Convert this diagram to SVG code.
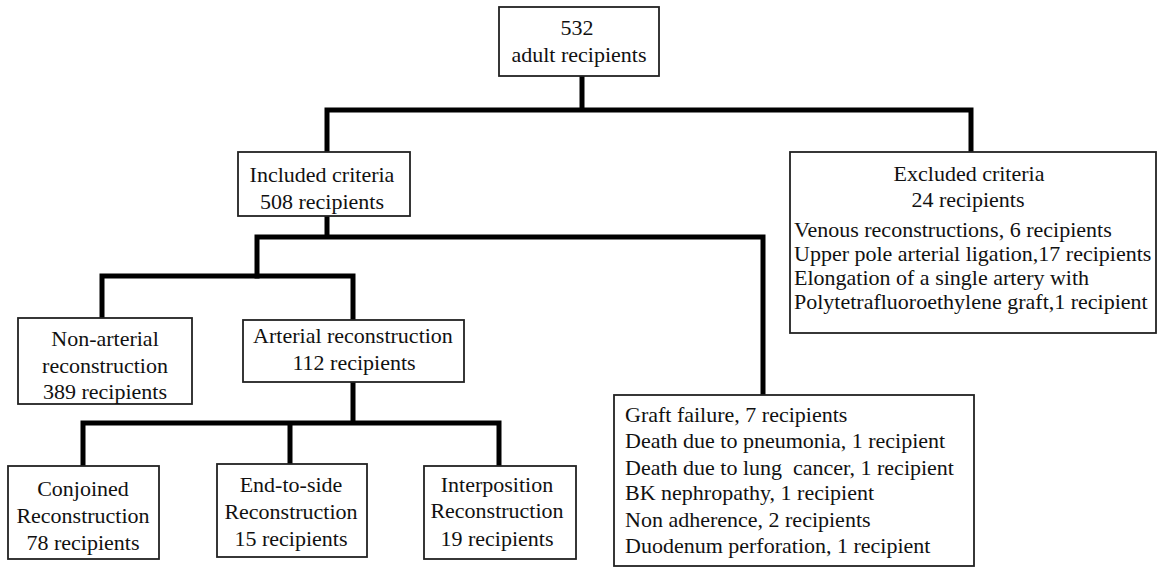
<svg xmlns="http://www.w3.org/2000/svg" width="1159" height="569" viewBox="0 0 1159 569">
<style>
.box{fill:#fff;stroke:#222;stroke-width:1.8}
.t{font-family:'Liberation Serif','Times New Roman',serif;font-size:22px;fill:#111}
.c{text-anchor:middle}
.conn{fill:none;stroke:#000;stroke-width:5;stroke-linejoin:miter;stroke-linecap:square}
</style>
<rect width="1159" height="569" fill="#fff"/>
<g id="connectors">
<path class="conn" d="M582 76 V110 M327 152 V110 H971 V152"/>
<path class="conn" d="M327 216 V237 M257 276 V237 H763 V395"/>
<path class="conn" d="M102 318 V276 H353 V320"/>
<path class="conn" d="M353 382 V423 M83 466 V423 H499 V466 M290 423 V464"/>
</g>
<g id="n532">
<rect class="box" x="499" y="7" width="160" height="69"/>
<text class="t c" x="577" y="35">532</text>
<text class="t c" x="579" y="62">adult recipients</text>
</g>
<g id="included">
<rect class="box" x="238" y="152" width="172" height="64"/>
<text class="t c" x="322" y="182">Included criteria</text>
<text class="t c" x="322" y="209">508 recipients</text>
</g>
<g id="excluded">
<rect class="box" x="790" y="152" width="366" height="181"/>
<text class="t c" x="969" y="181">Excluded criteria</text>
<text class="t c" x="968" y="207">24 recipients</text>
<text class="t" x="794" y="237">Venous reconstructions, 6 recipients</text>
<text class="t" x="794" y="261">Upper pole arterial ligation,17 recipients</text>
<text class="t" x="794" y="285">Elongation of a single artery with</text>
<text class="t" x="794" y="309">Polytetrafluoroethylene graft,1 recipient</text>
</g>
<g id="nonarterial">
<rect class="box" x="18" y="318" width="174" height="86"/>
<text class="t c" x="105" y="346">Non-arterial</text>
<text class="t c" x="105" y="373">reconstruction</text>
<text class="t c" x="105" y="399">389 recipients</text>
</g>
<g id="arterial">
<rect class="box" x="243" y="320" width="221" height="62"/>
<text class="t c" x="353" y="343">Arterial reconstruction</text>
<text class="t c" x="354" y="370">112 recipients</text>
</g>
<g id="outcomes">
<rect class="box" x="614" y="395" width="360" height="171"/>
<text class="t" x="625" y="422">Graft failure, 7 recipients</text>
<text class="t" x="625" y="448">Death due to pneumonia, 1 recipient</text>
<text class="t" x="625" y="475" xml:space="preserve">Death due to lung  cancer, 1 recipient</text>
<text class="t" x="625" y="500">BK nephropathy, 1 recipient</text>
<text class="t" x="625" y="527">Non adherence, 2 recipients</text>
<text class="t" x="625" y="553">Duodenum perforation, 1 recipient</text>
</g>
<g id="conjoined">
<rect class="box" x="8" y="466" width="151" height="93"/>
<text class="t c" x="83" y="496">Conjoined</text>
<text class="t c" x="83" y="523">Reconstruction</text>
<text class="t c" x="83" y="550">78 recipients</text>
</g>
<g id="endtoside">
<rect class="box" x="217" y="464" width="150" height="93"/>
<text class="t c" x="291" y="492">End-to-side</text>
<text class="t c" x="291" y="519">Reconstruction</text>
<text class="t c" x="291" y="546">15 recipients</text>
</g>
<g id="interposition">
<rect class="box" x="424" y="466" width="152" height="93"/>
<text class="t c" x="497" y="492">Interposition</text>
<text class="t c" x="497" y="518">Reconstruction</text>
<text class="t c" x="497" y="546">19 recipients</text>
</g>
</svg>
